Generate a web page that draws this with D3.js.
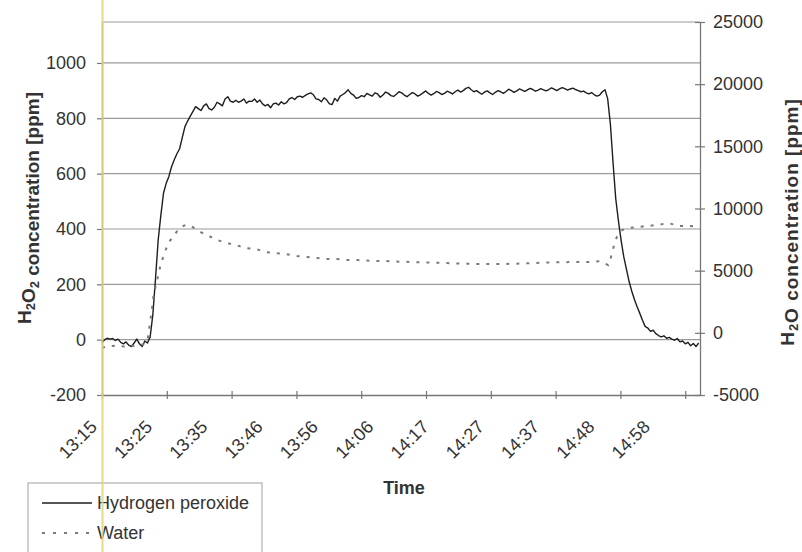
<!DOCTYPE html>
<html>
<head>
<meta charset="utf-8">
<script src="https://cdn.jsdelivr.net/npm/d3@7"></script>
<style>
  html, body { margin: 0; padding: 0; background: #fff; }
  svg { display: block; font-family: "Liberation Sans", Arial, Helvetica, sans-serif; }
</style>
</head>
<body>
<svg id="chart" width="802" height="552"></svg>
<script>
// Hydrogen peroxide readings [ppm], one every half minute from 13:15:00
const h2o2StepMin = 0.5;
const h2o2Ppm = [
  -10, 0, 5, 2, 4, -3, 2, -10, -15, -8,
  -20, -25, -12, 2, -15, -25, -5, -12, 10, 90,
  220, 360, 450, 530, 565, 590, 625, 650, 672, 690,
  730, 770, 790, 808, 825, 842, 835, 828, 845, 852,
  835, 830, 840, 858, 852, 845, 870, 878, 862, 858,
  865, 858, 862, 870, 855, 862, 861, 870, 858, 866,
  852, 845, 850, 838, 852, 855, 848, 860, 852, 857,
  870, 875, 868, 878, 880, 876, 883, 888, 892, 885,
  870, 868, 860, 874, 866, 852, 850, 872, 862, 880,
  886, 893, 903, 890, 884, 872, 875, 882, 878, 890,
  885, 880, 892, 888, 876, 884, 895, 890, 882, 879,
  887, 896, 892, 884, 878, 886, 893, 888, 880, 885,
  892, 899, 890, 884, 889, 897, 893, 886, 890, 898,
  894, 888, 896, 902, 895, 900, 908, 912, 903, 896,
  900, 893, 887, 895, 899, 892, 886, 894, 900, 896,
  890, 897, 905, 900, 894, 899, 906, 902, 897, 903,
  908, 904, 898, 902, 907, 903, 899, 904, 910, 905,
  900, 906, 911, 907, 902, 906, 909, 904, 900, 896,
  898, 892, 888, 893, 885, 880, 884, 896, 903, 870,
  780, 640, 510, 430, 360, 300, 255, 210, 175, 145,
  119, 95, 70, 48, 42, 30, 34, 22, 15, 10,
  14, 5, 8, 2, -2, 4, -8, -5, -15, -10,
  -22, -14, -25, -12
];

// Water readings [ppm], minutes after 13:15:00
const waterMinutes = [
  0, 1, 2, 3, 4, 5, 6, 7, 8, 8.5, 9.0, 9.3, 9.6, 10.0, 10.4, 10.8, 11.4, 12.1, 12.7, 13.3,
  14.0, 14.6, 15.3, 15.9, 16.8, 17.8, 18.7, 19.6, 21.3, 23.2, 25.0, 26.9, 28.8, 30.5, 32.3,
  34.2, 36.4, 38.3, 40.2, 42.0, 43.9, 45.8, 47.7, 50, 53, 56, 59, 62, 65, 68, 71, 74, 77,
  80, 83, 86, 89, 91.2, 93.1, 94.6, 95.0, 95.3, 95.7, 96.2, 97.2, 98.3, 100.0, 101.8,
  103.7, 105.8, 107.9, 109.9, 111.75
];
const waterPpm = [
  -1200, -1080, -1050, -1000, -1100, -1000, -1050, -980, -900, -600, 900, 1800, 2900, 3700, 4400, 5200, 6050, 6900, 7400, 7750,
  8150, 8430, 8620, 8700, 8550, 8270, 8050, 7870, 7500, 7230, 7060, 6820, 6740, 6500, 6420,
  6340, 6180, 6100, 6010, 5930, 5930, 5850, 5850, 5800, 5770, 5720, 5680, 5650, 5600, 5560, 5530, 5530, 5560,
  5600, 5650, 5680, 5700, 5690, 5770, 5450, 5900, 6420, 7060, 7700, 8270, 8430, 8510, 8590,
  8670, 8830, 8590, 8590, 8510
];

// Time axis: labels every 10 min 20 s, tick marks on a separate spacing
const timeLabels = ["13:15", "13:25", "13:35", "13:46", "13:56", "14:06",
                    "14:17", "14:27", "14:37", "14:48", "14:58"];
const labelStepMin = 620 / 60;
const tickStepMin = 12.11;
const spanMin = 111.75;

const leftTicks = [-200, 0, 200, 400, 600, 800, 1000];
const rightTicks = [-5000, 0, 5000, 10000, 15000, 20000, 25000];
const seriesNames = ["Hydrogen peroxide", "Water"];

const svg = d3.select("#chart");
const plot = { left: 102, right: 700, top: 22, bottom: 395 };
const textColor = "#333";
const plainNumber = d => String(d);

const x = d3.scaleLinear().domain([0, spanMin]).range([plot.left, plot.right]);
const yL = d3.scaleLinear().domain([-200, 1148]).range([plot.bottom, plot.top]);
const yR = d3.scaleLinear().domain([-5000, 25000]).range([plot.bottom, plot.top]);

// horizontal gridlines on the left-axis ticks
svg.append("g").selectAll("line")
  .data(leftTicks.filter(v => v > -200))
  .join("line")
  .attr("x1", plot.left).attr("x2", plot.right)
  .attr("y1", d => yL(d)).attr("y2", d => yL(d))
  .attr("stroke", "#9a9a9a").attr("stroke-width", 1.2);

// top border of the plot area
svg.append("line")
  .attr("x1", plot.left).attr("x2", plot.right)
  .attr("y1", plot.top).attr("y2", plot.top)
  .attr("stroke", "#999").attr("stroke-width", 1.2);

function styleAxis(g) {
  g.select(".domain").attr("stroke", "#777").attr("stroke-width", 1.3);
  g.selectAll(".tick line").attr("stroke", "#777").attr("stroke-width", 1.2);
  g.selectAll(".tick text").attr("fill", textColor)
    .style("font-size", "18px").style("font-family", "'Liberation Sans', Arial, sans-serif");
}

// left axis (H2O2)
svg.append("g")
  .attr("transform", `translate(${plot.left},0)`)
  .call(d3.axisLeft(yL).tickValues(leftTicks).tickFormat(plainNumber)
    .tickSize(5).tickSizeOuter(0).tickPadding(11))
  .call(styleAxis);

// right axis (H2O), cross tick marks
const gR = svg.append("g")
  .attr("transform", `translate(${plot.right},0)`)
  .call(d3.axisRight(yR).tickValues(rightTicks).tickFormat(plainNumber)
    .tickSize(5).tickSizeOuter(0).tickPadding(8))
  .call(styleAxis);
gR.selectAll(".tick line").attr("x1", -5).attr("x2", 5);

// bottom axis: tick marks only
const gB = svg.append("g")
  .attr("transform", `translate(0,${plot.bottom})`)
  .call(d3.axisBottom(x).tickValues(d3.range(0, spanMin, tickStepMin)).tickFormat("")
    .tickSize(4).tickSizeOuter(0))
  .call(styleAxis);
gB.selectAll(".tick line").attr("y1", -4).attr("y2", 4);

// rotated time labels
svg.append("g").selectAll("text")
  .data(timeLabels)
  .join("text")
  .attr("transform", (d, i) => `translate(${x(i * labelStepMin) - 4},${plot.bottom + 33}) rotate(-45)`)
  .attr("text-anchor", "end")
  .attr("fill", textColor)
  .style("font-size", "18px")
  .text(d => d);

// series lines
const h2o2Line = d3.line()
  .x((d, i) => x(i * h2o2StepMin))
  .y(d => yL(d));
svg.append("path")
  .datum(h2o2Ppm)
  .attr("d", h2o2Line)
  .attr("fill", "none")
  .attr("stroke", "#1e1e1e")
  .attr("stroke-width", 1.4)
  .attr("stroke-linejoin", "round");

const waterLine = d3.line()
  .x((d, i) => x(waterMinutes[i]))
  .y(d => yR(d));
svg.append("path")
  .datum(waterPpm)
  .attr("d", waterLine)
  .attr("fill", "none")
  .attr("stroke", "#7a7a7a")
  .attr("stroke-width", 2)
  .attr("stroke-dasharray", "3,7");

// axis titles with subscript digits
function chemTitle(sel, parts) {
  parts.forEach(p => {
    if (p.sub) {
      sel.append("tspan").attr("dy", 4).style("font-size", "13px").text(p.sub);
      sel.append("tspan").attr("dy", -4).text("");
    } else {
      sel.append("tspan").text(p.t);
    }
  });
}
const leftTitle = svg.append("text")
  .attr("transform", `translate(31,208) rotate(-90)`)
  .attr("text-anchor", "middle")
  .attr("fill", textColor)
  .style("font-size", "19px").style("font-weight", "bold");
chemTitle(leftTitle, [{ t: "H" }, { sub: "2" }, { t: "O" }, { sub: "2" }, { t: " concentration [ppm]" }]);

const rightTitle = svg.append("text")
  .attr("transform", `translate(794,222) rotate(-90)`)
  .attr("text-anchor", "middle")
  .attr("fill", textColor)
  .style("font-size", "19px").style("font-weight", "bold")
  .style("letter-spacing", "1px");
chemTitle(rightTitle, [{ t: "H" }, { sub: "2" }, { t: "O concentration [ppm]" }]);

svg.append("text")
  .attr("x", 404).attr("y", 494)
  .attr("text-anchor", "middle")
  .attr("fill", textColor)
  .style("font-size", "18px").style("font-weight", "bold")
  .text("Time");

// legend
const legend = svg.append("g");
legend.append("rect")
  .attr("x", 28).attr("y", 483).attr("width", 234).attr("height", 100)
  .attr("fill", "#fff").attr("stroke", "#b0b0b0").attr("stroke-width", 1.2);
const legendRows = [
  { name: seriesNames[0], stroke: "#1e1e1e", width: 1.4, dash: null, y: 503 },
  { name: seriesNames[1], stroke: "#7a7a7a", width: 2, dash: "3,8", y: 533 }
];
legendRows.forEach(r => {
  legend.append("line")
    .attr("x1", 42).attr("x2", 92).attr("y1", r.y).attr("y2", r.y)
    .attr("stroke", r.stroke).attr("stroke-width", r.width)
    .attr("stroke-dasharray", r.dash);
  legend.append("text")
    .attr("x", 97).attr("y", r.y + 6)
    .attr("fill", textColor)
    .style("font-size", "18px")
    .text(r.name);
});

// thin yellow vertical rule along the left edge of the plot
svg.append("line")
  .attr("x1", 102.5).attr("x2", 102.5).attr("y1", 0).attr("y2", 552)
  .attr("stroke", "#e6d47e").attr("stroke-width", 2).attr("opacity", 0.9);
</script>
</body>
</html>
